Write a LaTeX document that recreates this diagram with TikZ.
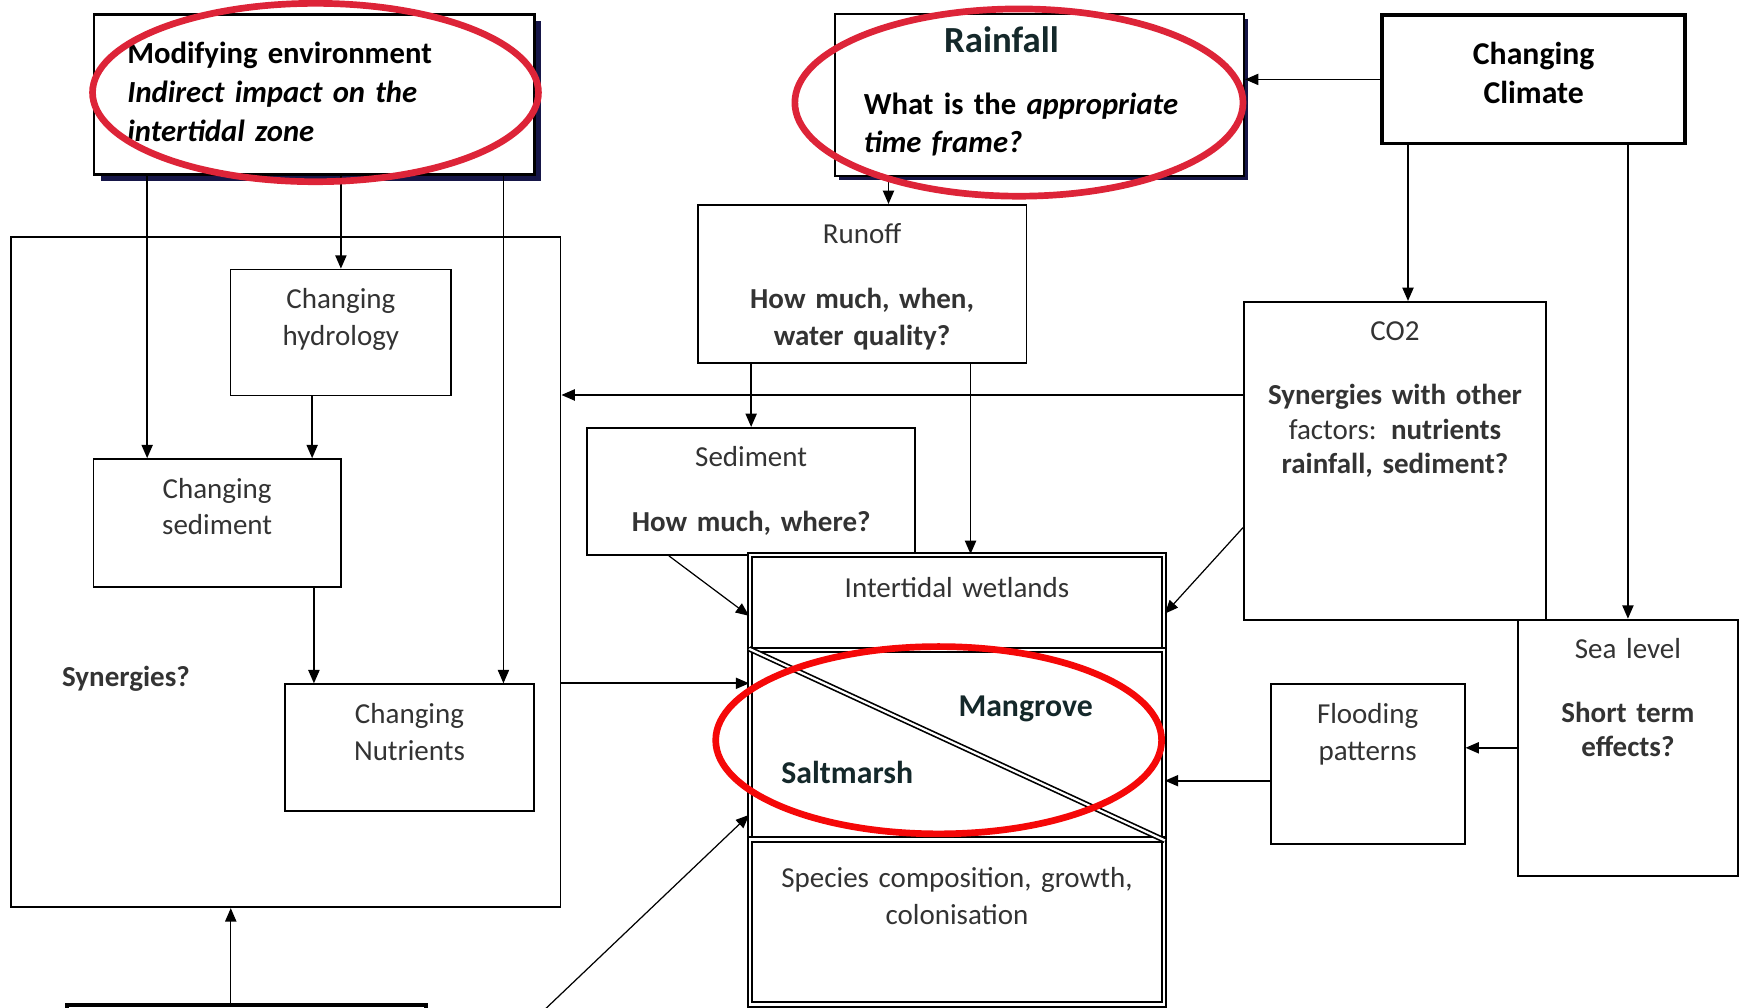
\documentclass[tikz,border=0pt]{standalone}
\usepackage{fontspec}
\setmainfont{Carlito}
\usetikzlibrary{arrows.meta, positioning, shadows}
\definecolor{ringred}{RGB}{221, 36, 56}
\definecolor{markred}{RGB}{245, 8, 8}
\definecolor{navyshade}{RGB}{22, 22, 72}
\definecolor{darkteal}{RGB}{20, 40, 42}

\tikzset{
  gbox/.style={draw, line width=1.6pt, fill=white, text=black!80, align=center, anchor=north west,
    font=\fontsize{26}{33}\selectfont, inner xsep=0pt, inner ysep=12pt, text height=23pt},
  dbox/.style={gbox, double, double distance=2pt, line width=1.9pt},
  arr/.style={-{Triangle[length=12pt, width=10pt]}, line width=1.5pt},
  thinarr/.style={arr, line width=1.1pt},
  ring/.style={line width=6pt, ringred},
  tag/.style={font=\bfseries\fontsize{28.5}{34}\selectfont, text=darkteal}
}

\begin{document}
\begin{tikzpicture}[x=1pt, y=-1pt]
  \useasboundingbox (0,0) rectangle (1568,904);

  % left block
  \node[draw, line width=1.6pt, anchor=north west, minimum width=493pt, minimum height=601pt, inner sep=0pt] (env) at (9,212) {};
  \node[gbox, text width=198pt, text depth=66pt] (hydro) at (206,241) {Changing\\hydrology};
  \node[gbox, text width=222pt, text depth=68pt] (chsed) at (83,411) {Changing\\sediment};
  \node[gbox, text width=223pt, text depth=67pt] (nutr) at (255,613) {Changing\\Nutrients};
  \node[font=\bfseries\fontsize{26}{32}\selectfont, text=black!80] (syn) at (113,609) {Synergies?};

  % drivers
  \node[draw, line width=2.5pt, fill=white, anchor=north west, text width=335pt, inner xsep=30pt, inner ysep=18pt,
    text height=26pt, text depth=81pt, align=left, font=\bfseries\fontsize{27.5}{35}\selectfont,
    drop shadow={shadow xshift=6pt, shadow yshift=-6pt, fill=navyshade, opacity=1}] (mod) at (83,12)
    {Modifying environment\\\textit{Indirect impact on the}\\\textit{intertidal zone}};
  \node[draw, line width=1.8pt, fill=white, anchor=north west, text width=315pt, inner xsep=26pt, inner ysep=10pt,
    text height=24pt, text depth=101pt, align=left, font=\bfseries\fontsize{27.5}{34}\selectfont,
    drop shadow={shadow xshift=4pt, shadow yshift=-4pt, fill=navyshade, opacity=1}] (rain) at (748,12)
    {\hspace*{72pt}{\color{darkteal}\fontsize{33}{40}\selectfont Rainfall}\\[22pt]What is the \textit{appropriate}\\\textit{time frame?}};
  \node[draw, line width=3.5pt, fill=white, anchor=north west, text width=272pt, inner xsep=0pt, inner ysep=18pt,
    text height=26pt, text depth=53pt, align=center, font=\bfseries\fontsize{28.5}{35}\selectfont] (clim) at (1238,12)
    {Changing\\Climate};

  \node[gbox, text width=295pt, text depth=95pt] (runoff) at (625,183)
    {Runoff\\[25pt]\textbf{How much, when,}\\\textbf{water quality?}};
  \node[gbox, text width=294pt, text depth=67pt] (sed) at (526,383)
    {Sediment\\[25pt]\textbf{How much, where?}};
  \node[gbox, text width=271pt, text depth=238pt] (co2) at (1115,270)
    {CO2\\[24pt]\textbf{Synergies with other}\\[-2pt]factors: \textbf{nutrients}\\[-2pt]\textbf{rainfall, sediment?}};
  \node[gbox, text width=197pt, text depth=183pt] (sea) at (1361,555)
    {Sea level\\[24pt]\textbf{Short term}\\[-2pt]\textbf{effects?}};
  \node[gbox, text width=174pt, text depth=96pt] (flood) at (1139,613) {Flooding\\patterns};

  % intertidal stack
  \node[dbox, text width=371pt, inner ysep=15pt, text depth=32pt] (wet) at (672,497) {Intertidal wetlands};
  \node[dbox, minimum width=371pt, minimum height=170pt, inner sep=0pt, text height=0pt] (mix) at (672,582) {};
  \node[dbox, text width=371pt, inner ysep=20pt, text depth=85pt] (spec) at (672,752)
    {Species composition, growth,\\colonisation};
  \draw[double, double distance=2pt, line width=1.5pt] (mix.north west) -- (mix.south east);
  \node[tag] (mang) at (920,636) {Mangrove};
  \node[tag] (salt) at (760,693) {Saltmarsh};

  \node[draw, line width=3.5pt, anchor=north west, minimum width=322pt, minimum height=60pt, inner sep=0pt] (low) at (58,900) {};

  % connectors
  \draw[arr] ([xshift=49pt]mod.south west) coordinate (m1) -- (m1 |- chsed.north);
  \draw[arr] (mod.south -| hydro.north) -- (hydro.north);
  \coordinate (n1) at ([xshift=-28pt]nutr.north east);
  \draw[thinarr] (mod.south -| n1) -- (n1);
  \draw[arr] ([xshift=74pt]hydro.south west) coordinate (h1) -- (h1 |- chsed.north);
  \draw[arr] ([xshift=-25pt]chsed.south east) coordinate (s1) -- (s1 |- nutr.north);

  \draw[arr] (clim.west) -- (clim.west -| rain.east);
  \draw[arr] ([xshift=49pt]rain.south west) coordinate (r2) -- (r2 |- runoff.north);
  \draw[arr] ([xshift=25pt]clim.south west) coordinate (c1) -- (c1 |- co2.north);
  \draw[arr] (clim.south -| sea.north) -- (sea.north);
  \draw[arr] ([yshift=59pt]co2.west) coordinate (c2) -- (c2 -| env.east);
  \draw[arr] (runoff.south -| sed.north) -- (sed.north);
  \draw[arr] ([xshift=-51pt]runoff.south east) coordinate (r1) -- (r1 |- wet.north);
  \draw[arr] (sea.west) -- (sea.west -| flood.east);
  \draw[arr] ([yshift=-15pt]flood.west) coordinate (f1) -- (f1 -| mix.east);
  \draw[thinarr] ([yshift=-60pt]co2.west) -- ([yshift=-10pt]wet.east);
  \draw[thinarr] ([xshift=74pt]sed.south west) -- ([yshift=-12pt]wet.west);
  \coordinate (m2) at ([yshift=55pt]mix.west);
  \draw[arr] (env.east |- m2) -- (m2);
  \coordinate (offin) at (463,930);
  \draw[thinarr] (offin) -- ([yshift=-63pt]mix.west);
  \draw[thinarr] ([xshift=149pt]low.north west) coordinate (l1) -- (l1 |- env.south);

  % highlights
  \draw[ring] (283,83) ellipse [x radius=200, y radius=80];
  \draw[ring] (914,92) ellipse [x radius=201, y radius=84];
  \draw[ring, markred] (842,664) ellipse [x radius=200, y radius=84];
\end{tikzpicture}
\end{document}
